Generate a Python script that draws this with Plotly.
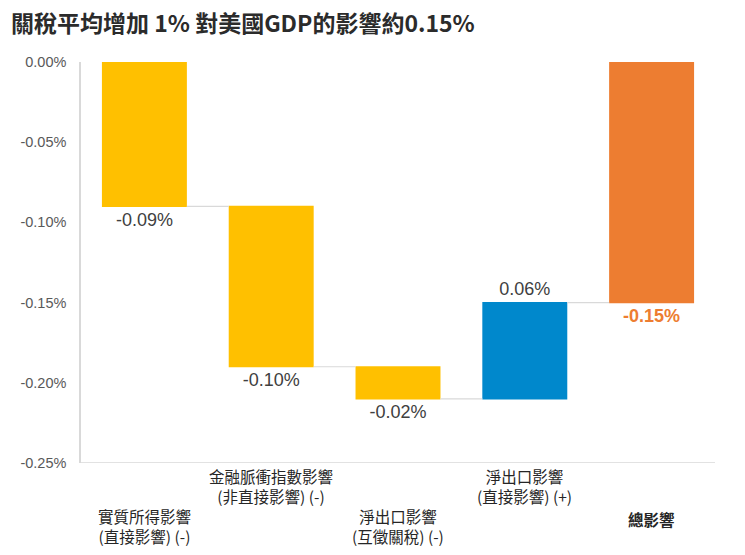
import plotly.graph_objects as go

title = "關稅平均增加 1% 對美國GDP的影響約0.15%"
categories = ["實質所得影響", "金融脈衝指數影響", "淨出口影響(互徵關稅)", "淨出口影響(直接)", "總影響"]
label_texts = [
    "實質所得影響<br>(直接影響) (-)",
    "金融脈衝指數影響<br>(非直接影響) (-)",
    "淨出口影響<br>(互徵關稅) (-)",
    "淨出口影響<br>(直接影響) (+)",
    "<b>總影響</b>",
]
label_centers = [518, 478, 518, 478, 511]
values = [-0.09, -0.10, -0.02, 0.06, -0.15]
measures = ["relative", "relative", "relative", "relative", "total"]
text_labels = ["-0.09%", "-0.10%", "-0.02%", "0.06%", "<b>-0.15%</b>"]
text_colors = ["#404040", "#404040", "#404040", "#404040", "#ED7D31"]
y_ticks = [0, -0.05, -0.10, -0.15, -0.20, -0.25]

# page has an 8px body margin; figure coordinates compensate for it
W, H = 745, 555
L, R, T, B = 66, 38, 54, 100
plot_bottom = H - B
plot_h = H - T - B

def paper_y(px):
    return (plot_bottom - px) / plot_h

fig = go.Figure()
fig.add_trace(go.Waterfall(
    x=categories,
    y=values,
    measure=measures,
    text=text_labels,
    textposition="outside",
    textfont=dict(family="Liberation Sans, Arial", size=18, color=text_colors),
    decreasing=dict(marker=dict(color="#FFC000")),
    increasing=dict(marker=dict(color="#0088CC")),
    totals=dict(marker=dict(color="#ED7D31")),
    connector=dict(line=dict(color="#D9D9D9", width=1.2)),
    cliponaxis=False,
    hoverinfo="skip",
))

annotations = []
for cat, lab, cy in zip(categories, label_texts, label_centers):
    annotations.append(dict(
        x=cat, xref="x", y=paper_y(cy), yref="paper",
        yanchor="middle", xanchor="center", showarrow=False, align="center",
        text=lab,
        font=dict(family="Noto Sans CJK TC", size=15.5, color="#262626"),
    ))

fig.update_layout(
    width=W, height=H,
    margin=dict(l=L, r=R, t=T, b=B),
    paper_bgcolor="white", plot_bgcolor="white",
    showlegend=False,
    waterfallgap=0.33,
    title=dict(text="<b>" + title + "</b>", x=0.004, xanchor="left", y=1 - 16 / H, yanchor="middle",
               font=dict(family="Noto Sans CJK TC", size=23, color="#2B2B2B")),
    annotations=annotations,
    xaxis=dict(showticklabels=False, showgrid=False, zeroline=False, showline=False, ticks=""),
    yaxis=dict(range=[-0.25, 0], tickvals=y_ticks, ticktext=[f"{v:.2f}%" for v in y_ticks],
               showgrid=False, zeroline=False, showline=True, linecolor="#D9D9D9", linewidth=1.5,
               ticks="", ticklabelstandoff=10,
               tickfont=dict(family="Liberation Sans, Arial", size=14.5, color="#595959")),
)
fig.add_shape(type="line", xref="paper", yref="y", x0=0, x1=1, y0=-0.25, y1=-0.25,
              line=dict(color="#D9D9D9", width=1.5))

fig.write_html("out.html")
